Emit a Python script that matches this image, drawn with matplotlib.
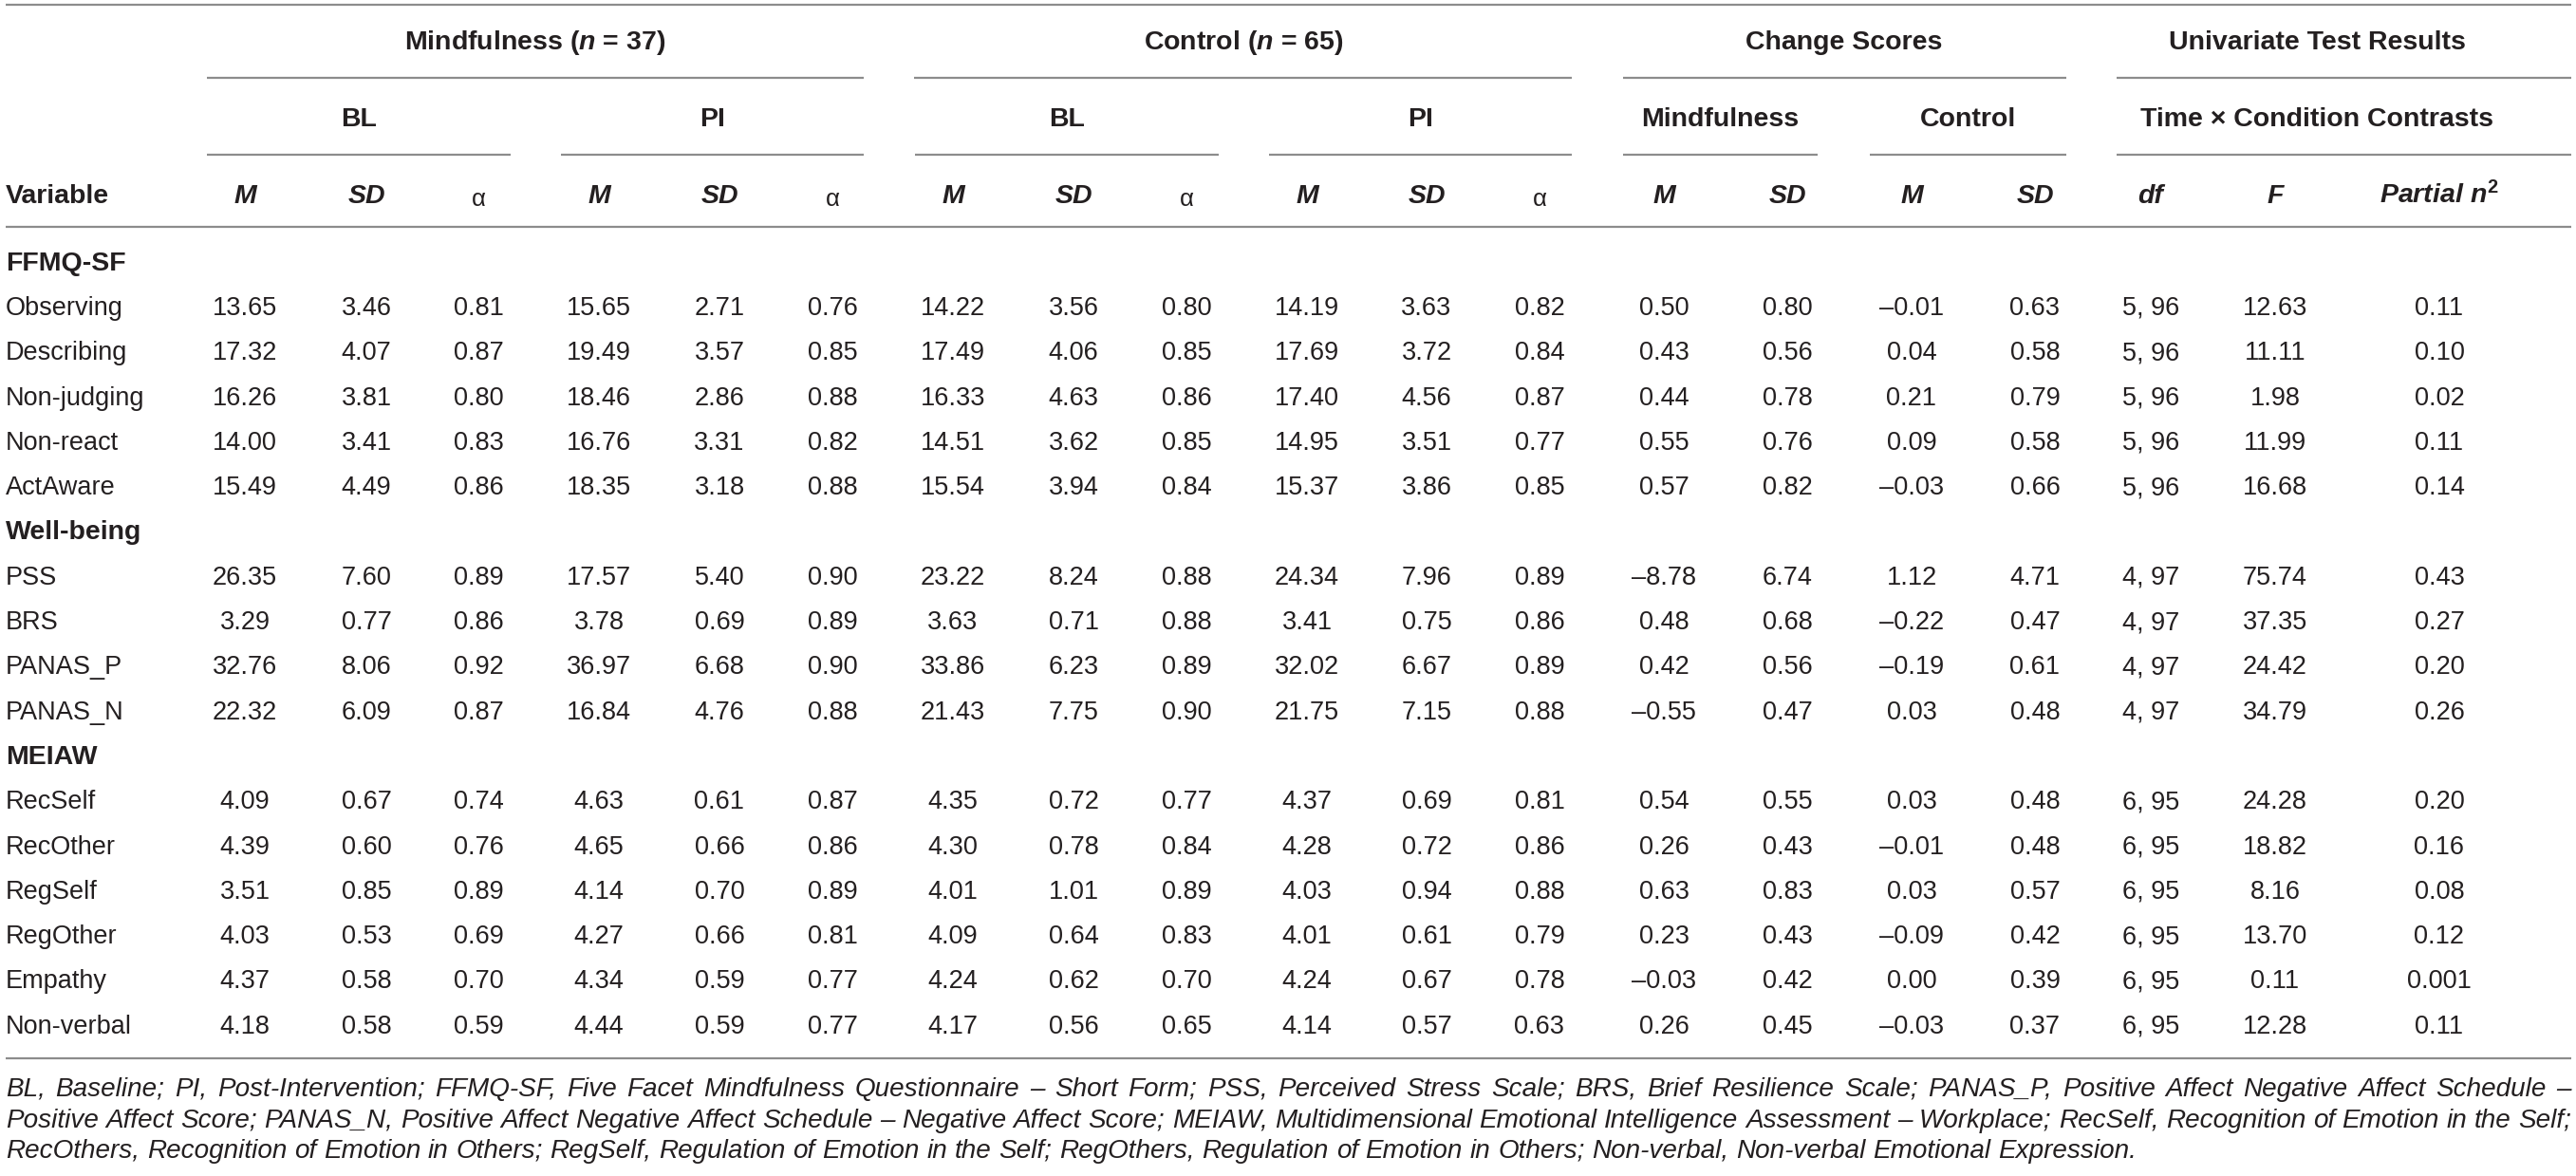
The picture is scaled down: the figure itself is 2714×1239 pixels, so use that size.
import matplotlib
matplotlib.use("Agg")
import matplotlib.pyplot as plt

# ---------- data ----------
sections = ["FFMQ-SF", "Well-being", "MEIAW"]
ffmq_vars = ["Observing", "Describing", "Non-judging", "Non-react", "ActAware"]
wellbeing_vars = ["PSS", "BRS", "PANAS_P", "PANAS_N"]
meiaw_vars = ["RecSelf", "RecOther", "RegSelf", "RegOther", "Empathy", "Non-verbal"]

mind_bl_m = [13.65, 17.32, 16.26, 14.00, 15.49, 26.35, 3.29, 32.76, 22.32, 4.09, 4.39, 3.51, 4.03, 4.37, 4.18]
mind_bl_sd = [3.46, 4.07, 3.81, 3.41, 4.49, 7.60, 0.77, 8.06, 6.09, 0.67, 0.60, 0.85, 0.53, 0.58, 0.58]
mind_bl_a = [0.81, 0.87, 0.80, 0.83, 0.86, 0.89, 0.86, 0.92, 0.87, 0.74, 0.76, 0.89, 0.69, 0.70, 0.59]
mind_pi_m = [15.65, 19.49, 18.46, 16.76, 18.35, 17.57, 3.78, 36.97, 16.84, 4.63, 4.65, 4.14, 4.27, 4.34, 4.44]
mind_pi_sd = [2.71, 3.57, 2.86, 3.31, 3.18, 5.40, 0.69, 6.68, 4.76, 0.61, 0.66, 0.70, 0.66, 0.59, 0.59]
mind_pi_a = [0.76, 0.85, 0.88, 0.82, 0.88, 0.90, 0.89, 0.90, 0.88, 0.87, 0.86, 0.89, 0.81, 0.77, 0.77]
ctrl_bl_m = [14.22, 17.49, 16.33, 14.51, 15.54, 23.22, 3.63, 33.86, 21.43, 4.35, 4.30, 4.01, 4.09, 4.24, 4.17]
ctrl_bl_sd = [3.56, 4.06, 4.63, 3.62, 3.94, 8.24, 0.71, 6.23, 7.75, 0.72, 0.78, 1.01, 0.64, 0.62, 0.56]
ctrl_bl_a = [0.80, 0.85, 0.86, 0.85, 0.84, 0.88, 0.88, 0.89, 0.90, 0.77, 0.84, 0.89, 0.83, 0.70, 0.65]
ctrl_pi_m = [14.19, 17.69, 17.40, 14.95, 15.37, 24.34, 3.41, 32.02, 21.75, 4.37, 4.28, 4.03, 4.01, 4.24, 4.14]
ctrl_pi_sd = [3.63, 3.72, 4.56, 3.51, 3.86, 7.96, 0.75, 6.67, 7.15, 0.69, 0.72, 0.94, 0.61, 0.67, 0.57]
ctrl_pi_a = [0.82, 0.84, 0.87, 0.77, 0.85, 0.89, 0.86, 0.89, 0.88, 0.81, 0.86, 0.88, 0.79, 0.78, 0.63]
chg_mind_m = [0.50, 0.43, 0.44, 0.55, 0.57, -8.78, 0.48, 0.42, -0.55, 0.54, 0.26, 0.63, 0.23, -0.03, 0.26]
chg_mind_sd = [0.80, 0.56, 0.78, 0.76, 0.82, 6.74, 0.68, 0.56, 0.47, 0.55, 0.43, 0.83, 0.43, 0.42, 0.45]
chg_ctrl_m = [-0.01, 0.04, 0.21, 0.09, -0.03, 1.12, -0.22, -0.19, 0.03, 0.03, -0.01, 0.03, -0.09, 0.00, -0.03]
chg_ctrl_sd = [0.63, 0.58, 0.79, 0.58, 0.66, 4.71, 0.47, 0.61, 0.48, 0.48, 0.48, 0.57, 0.42, 0.39, 0.37]
df1 = [5, 5, 5, 5, 5, 4, 4, 4, 4, 6, 6, 6, 6, 6, 6]
df2 = [96, 96, 96, 96, 96, 97, 97, 97, 97, 95, 95, 95, 95, 95, 95]
f_vals = [12.63, 11.11, 1.98, 11.99, 16.68, 75.74, 37.35, 24.42, 34.79, 24.28, 18.82, 8.16, 13.70, 0.11, 12.28]
partial_eta = [0.11, 0.10, 0.02, 0.11, 0.14, 0.43, 0.27, 0.20, 0.26, 0.20, 0.16, 0.08, 0.12, 0.001, 0.11]

group_labels = ["Mindfulness ($n$ = 37)", "Control ($n$ = 65)", "Change Scores", "Univariate Test Results"]
sub_labels = ["BL", "PI", "BL", "PI", "Mindfulness", "Control", "Time \u00d7 Condition Contrasts"]
col_labels = ["M", "SD", "\u03b1", "M", "SD", "\u03b1", "M", "SD", "\u03b1", "M", "SD", "\u03b1",
              "M", "SD", "M", "SD", "df", "F", "Partial $n^{2}$"]

note_lines = [
    "BL, Baseline; PI, Post-Intervention; FFMQ-SF, Five Facet Mindfulness Questionnaire \u2013 Short Form; "
    "PSS, Perceived Stress Scale; BRS, Brief Resilience Scale; PANAS_P, Positive Affect Negative Affect Schedule \u2013",
    "Positive Affect Score; PANAS_N, Positive Affect Negative Affect Schedule \u2013 Negative Affect Score; "
    "MEIAW, Multidimensional Emotional Intelligence Assessment \u2013 Workplace; RecSelf, Recognition of Emotion in the Self;",
    "RecOthers, Recognition of Emotion in Others; RegSelf, Regulation of Emotion in the Self; "
    "RegOthers, Regulation of Emotion in Others; Non-verbal, Non-verbal Emotional Expression.",
]

# ---------- layout ----------
plt.rcParams["font.family"] = "Liberation Sans"
plt.rcParams["mathtext.fontset"] = "custom"
plt.rcParams["mathtext.it"] = "Liberation Sans:italic:bold"
plt.rcParams["mathtext.rm"] = "Liberation Sans:bold"
plt.rcParams["mathtext.bf"] = "Liberation Sans:bold"

W, H = 2714, 1239
INK = "#231f20"
RULE = "#8c8c8c"
FS_HEAD = 20.5
FS_BODY = 19.5

fig = plt.figure(figsize=(W / 100, H / 100), dpi=100)
ax = fig.add_axes([0, 0, 1, 1])
ax.set_xlim(0, W)
ax.set_ylim(H, 0)
ax.axis("off")
renderer = fig.canvas.get_renderer()


def base(yc, fs):
    # baseline from visual centre of capitals
    return yc + 0.716 * fs * 100 / 72 / 2


def hrule(x0, x1, y):
    ax.plot([x0, x1], [y, y], color=RULE, lw=1.6, solid_capstyle="butt")


def fmt(v):
    return f"{v:.2f}".replace("-", "\u2013")


def fmt_eta(v):
    return f"{v:.3f}" if v < 0.01 else f"{v:.2f}"


x_left, x_right = 6, 2709
col_x = [258, 386, 504, 631, 758, 877, 1004, 1131, 1250, 1377, 1503, 1622,
         1753, 1883, 2014, 2144, 2266, 2397, 2570]

# rules
hrule(x_left, x_right, 5)
for a, b in [(218, 910), (963, 1656), (1710, 2177), (2230, x_right)]:
    hrule(a, b, 82)
for a, b in [(218, 538), (591, 910), (964, 1284), (1337, 1656), (1710, 1915), (1970, 2177), (2230, x_right)]:
    hrule(a, b, 163)
hrule(x_left, x_right, 239)
hrule(x_left, x_right, 1115)

# header text
for lab, x in zip(group_labels, [564, 1310, 1943, 2441]):
    ax.text(x, base(42, FS_HEAD), lab, ha="center", va="baseline", fontsize=FS_HEAD,
            fontweight="bold", color=INK)
for lab, x in zip(sub_labels, [378, 751, 1124, 1497, 1812, 2073, 2441]):
    ax.text(x, base(123, FS_HEAD), lab, ha="center", va="baseline", fontsize=FS_HEAD,
            fontweight="bold", color=INK)
ax.text(x_left, base(204, FS_HEAD), "Variable", ha="left", va="baseline", fontsize=FS_HEAD,
        fontweight="bold", color=INK)
for lab, x in zip(col_labels, col_x):
    if lab == "\u03b1":
        ax.text(x, base(208, FS_HEAD - 2), lab, ha="center", va="baseline", fontsize=FS_HEAD - 2,
                color=INK)
    else:
        ax.text(x, base(204, FS_HEAD), lab, ha="center", va="baseline", fontsize=FS_HEAD,
                fontweight="bold", fontstyle="italic", color=INK)

# body
columns = [mind_bl_m, mind_bl_sd, mind_bl_a, mind_pi_m, mind_pi_sd, mind_pi_a,
           ctrl_bl_m, ctrl_bl_sd, ctrl_bl_a, ctrl_pi_m, ctrl_pi_sd, ctrl_pi_a,
           chg_mind_m, chg_mind_sd, chg_ctrl_m, chg_ctrl_sd]
row_y0, row_step = 275, 47.3
rows = []
for sec, names in zip(sections, [ffmq_vars, wellbeing_vars, meiaw_vars]):
    rows.append(("section", sec))
    for n in names:
        rows.append(("var", n))

k = 0
for i, (kind, label) in enumerate(rows):
    y = base(row_y0 + i * row_step, FS_BODY)
    if kind == "section":
        ax.text(x_left, y, label, ha="left", va="baseline", fontsize=FS_HEAD,
                fontweight="bold", color=INK)
        continue
    ax.text(x_left, y, label, ha="left", va="baseline", fontsize=FS_BODY, color=INK)
    cells = [fmt(c[k]) for c in columns]
    cells += [f"{df1[k]}, {df2[k]}", f"{f_vals[k]:.2f}", fmt_eta(partial_eta[k])]
    for s, x in zip(cells, col_x):
        ax.text(x, y, s, ha="center", va="baseline", fontsize=FS_BODY, color=INK)
    k += 1


# note, justified like the journal layout
def width(s, fs):
    t = ax.text(0, 0, s, fontsize=fs, fontstyle="italic")
    w = t.get_window_extent(renderer=renderer).width
    t.remove()
    return w


fs_note = 15.0
fs_note *= 2250 / width(note_lines[2], fs_note)
space_w = width("x x", fs_note) - width("xx", fs_note)
for j, (line, yc) in enumerate(zip(note_lines, [1145, 1178, 1210])):
    words = line.split(" ")
    ws = [width(w_, fs_note) for w_ in words]
    if j < 2:
        gap = (x_right - x_left - sum(ws)) / (len(words) - 1)
    else:
        gap = space_w
    x = x_left
    for w_, wd in zip(words, ws):
        ax.text(x, base(yc, fs_note), w_, ha="left", va="baseline", fontsize=fs_note,
                fontstyle="italic", color=INK)
        x += wd + gap

fig.savefig("out.png", dpi=100, facecolor="white")
